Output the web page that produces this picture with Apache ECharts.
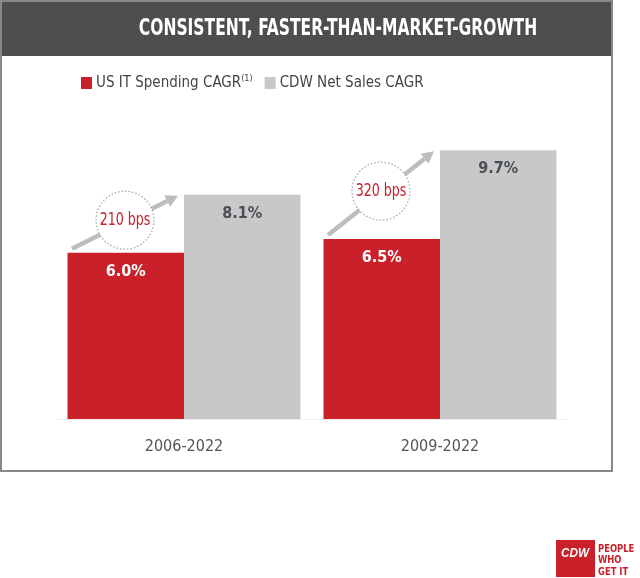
<!DOCTYPE html>
<html>
<head>
<meta charset="utf-8">
<script src="https://cdn.jsdelivr.net/npm/echarts@6/dist/echarts.min.js"></script>
<style>
html,body{margin:0;padding:0;background:#fff;}
#c{width:640px;height:578px;}
</style>
</head>
<body>
<div id="c"></div>
<script>
var categories = ['2006-2022', '2009-2022'];
var usItSpending = [6.0, 6.5];
var cdwNetSales = [8.1, 9.7];
var seriesNames = ['US IT Spending CAGR', 'CDW Net Sales CAGR'];
var titleText = 'CONSISTENT, FASTER-THAN-MARKET-GROWTH';

var NARROW = "'DejaVu Sans Condensed', 'Liberation Sans Narrow', 'Roboto', sans-serif";
var RED = '#c9202a';
var GRAY = '#c8c8c8';

var chart = echarts.init(document.getElementById('c'));

var option = {
  animation: false,
  backgroundColor: '#fff',
  legend: {
    left: 76, top: 69,
    itemWidth: 11, itemHeight: 12, itemGap: 12,
    icon: 'rect',
    data: seriesNames,
    formatter: function (n) { return n === seriesNames[0] ? n + '{sup|(1)}' : n; },
    textStyle: {
      color: '#444', fontSize: 15, fontFamily: NARROW, padding: [0, 0, 0, -1],
      rich: { sup: { fontSize: 9, color: '#444', fontFamily: NARROW, verticalAlign: 'top', padding: [0, 0, 9, 0] } }
    }
  },
  grid: { left: 56, right: 72, top: 142, bottom: 159 },
  xAxis: {
    type: 'category', data: categories,
    axisLine: { lineStyle: { color: '#eeeeee', width: 1 } },
    axisTick: { show: false },
    axisLabel: { color: '#555', fontSize: 16, fontFamily: NARROW, margin: 20 }
  },
  yAxis: { type: 'value', min: 0, max: 10, show: false, splitLine: { show: false } },
  series: [
    {
      name: seriesNames[0], type: 'bar', data: usItSpending, barWidth: 116.5, barGap: '0%',
      itemStyle: { color: RED },
      label: { show: true, position: 'insideTop', distance: 11, color: '#fff', fontSize: 16, fontWeight: 'bold', fontFamily: NARROW,
        formatter: function (p) { return p.value.toFixed(1) + '%'; } }
    },
    {
      name: seriesNames[1], type: 'bar', data: cdwNetSales, barWidth: 116.5, barGap: '0%',
      itemStyle: { color: GRAY },
      label: { show: true, position: 'insideTop', distance: 11, color: '#4a4f55', fontSize: 16, fontWeight: 'bold', fontFamily: NARROW,
        formatter: function (p) { return p.value.toFixed(1) + '%'; } }
    }
  ]
};
chart.setOption(option);

function buildGraphics() {
  var g = [];
  g.push({ type: 'rect', z: -10, shape: { x: 0, y: 0, width: 612, height: 56 }, style: { fill: '#4e4e4e' } });
  g.push({ type: 'rect', z: -10, shape: { x: 1, y: 1, width: 611, height: 470 }, style: { fill: 'none', stroke: '#888', lineWidth: 2 } });
  g.push({ type: 'text', z: 5, x: 338, y: 29, scaleX: 0.75, style: { text: titleText, fill: '#fff', fontSize: 23, fontWeight: 'bold', fontFamily: NARROW, align: 'center', verticalAlign: 'middle' } });

  categories.forEach(function (cat, i) {
    var xc = chart.convertToPixel({ xAxisIndex: 0 }, cat);
    var y0 = chart.convertToPixel({ yAxisIndex: 0 }, usItSpending[i]);
    var y1 = chart.convertToPixel({ yAxisIndex: 0 }, cdwNetSales[i]);
    var x0 = xc - 112, ys = y0 - 4, x1 = xc - 6, ye = y1 + 1;
    var ang = Math.atan2(ye - ys, x1 - x0);
    var ah = 12, aw = 6.5;
    var bx = x1 - ah * Math.cos(ang), by = ye - ah * Math.sin(ang);
    g.push({ type: 'line', z: 50, shape: { x1: x0, y1: ys, x2: bx, y2: by }, style: { stroke: '#bdbdbd', lineWidth: 4.5 } });
    g.push({ type: 'polygon', z: 50, shape: { points: [
      [x1, ye],
      [bx + aw * Math.sin(ang), by - aw * Math.cos(ang)],
      [bx - aw * Math.sin(ang), by + aw * Math.cos(ang)]
    ] }, style: { fill: '#bdbdbd' } });
    var cx = (x0 + x1) / 2, cy = (ys + ye) / 2 - 2;
    g.push({ type: 'circle', z: 51, shape: { cx: cx, cy: cy, r: 29 }, style: { fill: '#fff', stroke: '#aaa', lineWidth: 1.3, lineDash: [1.5, 2] } });
    var bps = Math.round((cdwNetSales[i] - usItSpending[i]) * 100);
    g.push({ type: 'text', z: 52, x: cx, y: cy, scaleX: 0.78, style: { text: bps + ' bps', fill: RED, fontSize: 18, fontFamily: NARROW, align: 'center', verticalAlign: 'middle' } });
  });

  g.push({ type: 'rect', shape: { x: 556, y: 540, width: 39, height: 37 }, style: { fill: RED } });
  g.push({ type: 'text', x: 575, y: 553, scaleX: 0.9, style: { text: 'CDW', fill: '#fff', fontSize: 13, fontWeight: 'bold', fontStyle: 'italic', fontFamily: 'Liberation Sans, sans-serif', align: 'center', verticalAlign: 'middle' } });
  g.push({ type: 'text', x: 598, y: 543, scaleX: 0.85, style: { text: 'PEOPLE\nWHO\nGET IT', fill: RED, fontSize: 11, lineHeight: 11.5, fontWeight: 'bold', fontFamily: NARROW, align: 'left', verticalAlign: 'top' } });
  return g;
}
chart.setOption({ graphic: buildGraphics() });
</script>
</body>
</html>
